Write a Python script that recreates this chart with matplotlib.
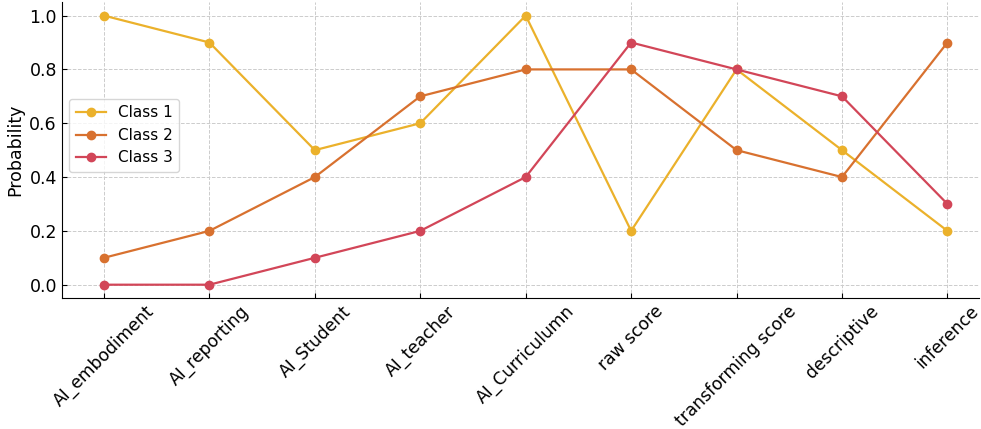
import numpy as np
import matplotlib
matplotlib.use("Agg")
import matplotlib.pyplot as plt

categories = ["AI_embodiment", "AI_reporting", "AI_Student", "AI_teacher", "AI_Curriculumn",
              "raw score", "transforming score", "descriptive", "inference"]
class1 = [1.0, 0.9, 0.5, 0.6, 1.0, 0.2, 0.8, 0.5, 0.2]
class2 = [0.1, 0.2, 0.4, 0.7, 0.8, 0.8, 0.5, 0.4, 0.9]
class3 = [0.0, 0.0, 0.1, 0.2, 0.4, 0.9, 0.8, 0.7, 0.3]

colors = ["#EBB12B", "#D8712F", "#D24658"]

fig, ax = plt.subplots(figsize=(9.81, 4.29), dpi=100)
x = np.arange(len(categories))
for vals, col, lab in zip([class1, class2, class3], colors, ["Class 1", "Class 2", "Class 3"]):
    ax.plot(x, vals, marker="o", color=col, label=lab, linewidth=1.6, markersize=6)

ax.set_xticks(x)
ax.set_xticklabels(categories, rotation=45, ha="center", fontsize=12.3)
ax.set_ylabel("Probability", fontsize=12.5)
ax.set_yticks([0.0, 0.2, 0.4, 0.6, 0.8, 1.0])
ax.tick_params(axis="y", labelsize=12.5, direction="in")
ax.tick_params(axis="x", direction="in", pad=3)
ax.set_xlim(-0.4, 8.3)
ax.set_ylim(-0.05, 1.05)
ax.grid(True, linestyle="--", color="#cccccc", linewidth=0.7)
ax.spines["top"].set_visible(False)
ax.spines["right"].set_visible(False)
ax.legend(loc="center left", fontsize=11, bbox_to_anchor=(0.0, 0.55))

fig.subplots_adjust(left=0.063, right=0.998, top=0.995, bottom=0.305)
fig.savefig("out.png", dpi=100)
